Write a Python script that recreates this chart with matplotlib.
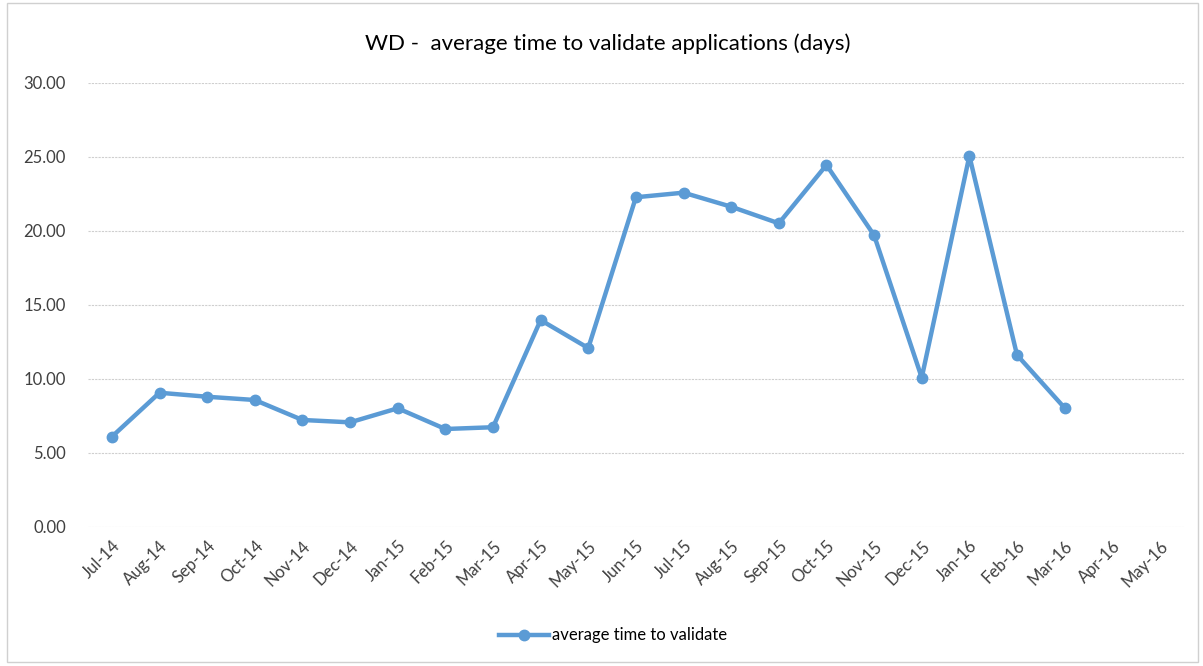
import matplotlib
matplotlib.use("Agg")
import matplotlib.pyplot as plt
from matplotlib.patches import Rectangle

plt.rcParams["font.family"] = ["Lato", "DejaVu Sans"]

months = ["Jul-14", "Aug-14", "Sep-14", "Oct-14", "Nov-14", "Dec-14",
          "Jan-15", "Feb-15", "Mar-15", "Apr-15", "May-15", "Jun-15",
          "Jul-15", "Aug-15", "Sep-15", "Oct-15", "Nov-15", "Dec-15",
          "Jan-16", "Feb-16", "Mar-16", "Apr-16", "May-16"]
avg_days = [6.08, 9.05, 8.78, 8.56, 7.21, 7.05, 8.00, 6.60, 6.72, 13.96,
            12.07, 22.26, 22.57, 21.62, 20.50, 24.44, 19.69, 10.07, 25.05,
            11.60, 8.02]
y_ticks = [0, 5, 10, 15, 20, 25, 30]

color = "#5B9BD5"

fig = plt.figure(figsize=(12.03, 6.66), dpi=100)
ax = fig.add_axes([0.0732, 0.2092, 0.9108, 0.6666])

x = list(range(len(avg_days)))
ax.plot(x, avg_days, color=color, lw=3.2, marker="o", markersize=7.5,
        solid_joinstyle="round", label="average time to validate")

ax.set_xlim(-0.5, len(months) - 0.5)
ax.set_ylim(0, 30)
ax.set_yticks(y_ticks)
ax.set_yticklabels([f"{v:.2f}" for v in y_ticks], fontsize=12, color="#404040")
ax.set_xticks(range(len(months)))
ax.set_xticklabels(months, rotation=45, ha="right", rotation_mode="anchor",
                   fontsize=12, color="#404040")
ax.tick_params(axis="y", length=0, pad=16)
ax.tick_params(axis="x", length=0, pad=8)
ax.yaxis.grid(True, color="#CFCFCF", lw=0.8, ls=(0, (2, 1)))
ax.set_axisbelow(True)
for s in ax.spines.values():
    s.set_visible(False)

fig.text(0.505, 0.935, "WD -  average time to validate applications (days)",
         ha="center", va="center", fontsize=16, color="#000000")

ax.legend(loc="center", bbox_to_anchor=(0.479, -0.245), frameon=False,
          fontsize=12, handlelength=3, handletextpad=0.2)

fig.patches.append(Rectangle((0.006, 0.006), 0.99, 0.99, transform=fig.transFigure,
                             fill=False, ec="#D0D0D0", lw=1))

fig.savefig("out.png", dpi=100)
